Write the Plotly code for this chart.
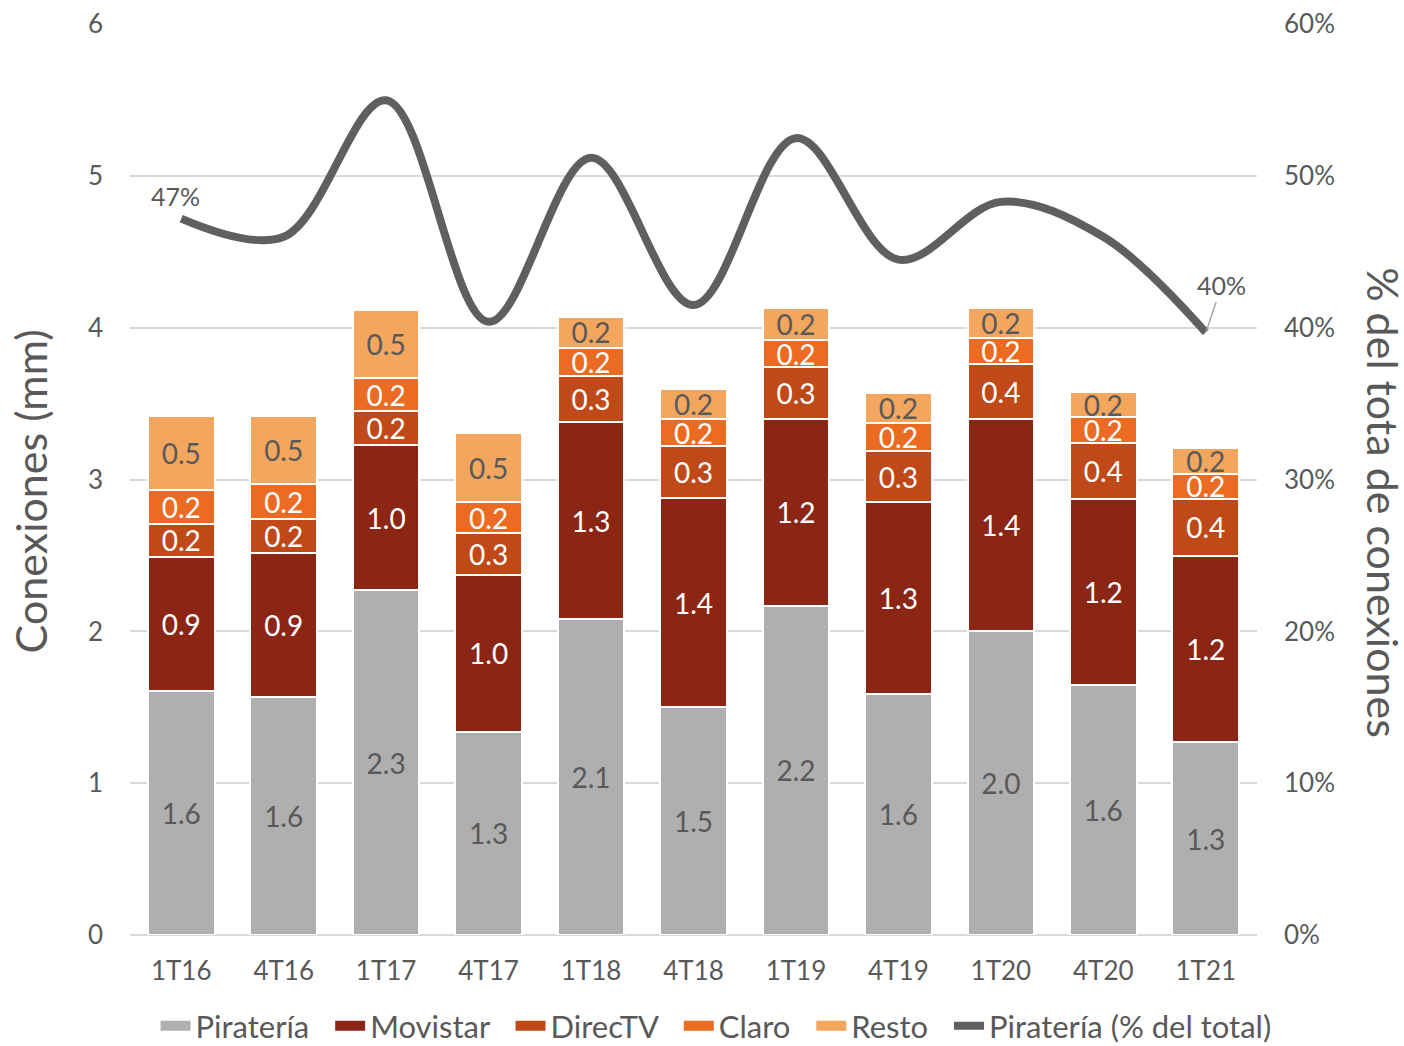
import plotly.graph_objects as go

categories = ["1T16", "4T16", "1T17", "4T17", "1T18", "4T18", "1T19", "4T19", "1T20", "4T20", "1T21"]
pirateria = [1.61, 1.57, 2.27, 1.34, 2.08, 1.50, 2.17, 1.59, 2.00, 1.65, 1.27]
movistar = [0.88, 0.95, 0.96, 1.03, 1.30, 1.38, 1.23, 1.26, 1.40, 1.22, 1.23]
directv = [0.22, 0.22, 0.22, 0.28, 0.30, 0.34, 0.34, 0.34, 0.36, 0.37, 0.37]
claro = [0.22, 0.23, 0.22, 0.20, 0.19, 0.18, 0.18, 0.18, 0.17, 0.17, 0.17]
resto = [0.49, 0.45, 0.45, 0.46, 0.20, 0.20, 0.21, 0.20, 0.20, 0.17, 0.17]
pct_pirateria = [0.472, 0.460, 0.550, 0.404, 0.512, 0.415, 0.525, 0.445, 0.483, 0.460, 0.397]

FONT = "Lato"
GRAY_TXT = "#595959"
NB = "\u00a0"

series = [
    ("Piratería", pirateria, "#AFAFAF", GRAY_TXT),
    ("Movistar", movistar, "#8C2614", "white"),
    ("DirecTV", directv, "#C0491A", "white"),
    ("Claro", claro, "#EB6B22", "white"),
    ("Resto", resto, "#F3A65E", GRAY_TXT),
]

fig = go.Figure()
for name, vals, color, tcolor in series:
    fig.add_trace(go.Bar(
        name=name, x=categories, y=vals, showlegend=False, legendgroup=name,
        marker=dict(color=color, line=dict(color="white", width=2)),
        text=[f"{v:.1f}" for v in vals],
        textposition="inside", insidetextanchor="middle", textangle=0,
        constraintext="none",
        textfont=dict(family=FONT, size=28, color=tcolor),
        yaxis="y",
    ))

# legend keys (wide rectangles like the original)
for name, vals, color, tcolor in series:
    fig.add_trace(go.Scatter(
        name=name + NB * 2, x=[None], y=[None], mode="lines", legendgroup=name,
        line=dict(color=color, width=15), showlegend=True, hoverinfo="skip",
    ))

fig.add_trace(go.Scatter(
    name="Piratería (% del total)", x=categories, y=pct_pirateria,
    mode="lines", line=dict(color="#5F5F5F", width=8, shape="spline", smoothing=1.0),
    yaxis="y2",
))

fig.update_layout(
    width=1404, height=1046,
    margin=dict(l=130, r=147, t=24, b=111, autoexpand=False),
    barmode="stack", bargap=0.35,
    plot_bgcolor="white", paper_bgcolor="white",
    font=dict(family=FONT, color=GRAY_TXT, size=26),
    uniformtext=dict(minsize=28, mode="show"),
    xaxis=dict(showgrid=False, showline=False, ticks="", tickfont=dict(size=26, color=GRAY_TXT),
               ticklabelstandoff=18, automargin=False),
    yaxis=dict(range=[0, 6.002], tickvals=[0, 1, 2, 3, 4, 5, 6], showgrid=True, gridcolor="#D9D9D9",
               gridwidth=1.5, zeroline=True, zerolinecolor="#D9D9D9", zerolinewidth=1.5,
               tickfont=dict(size=26, color=GRAY_TXT), ticklabelstandoff=26, automargin=False),
    yaxis2=dict(range=[0, 0.6002], tickvals=[0, 0.1, 0.2, 0.3, 0.4, 0.5, 0.6], tickformat=".0%",
                overlaying="y", side="right", automargin=False,
                showgrid=False, zeroline=False, tickfont=dict(size=26, color=GRAY_TXT),
                ticklabelstandoff=26),
    legend=dict(orientation="h", x=0.52, xanchor="center", y=-0.1, yanchor="middle",
                font=dict(size=31, color=GRAY_TXT), traceorder="normal", itemwidth=30,
                tracegroupgap=0),
    showlegend=True,
)

fig.add_annotation(x=categories[0], y=pct_pirateria[0], xref="x", yref="y2",
                   text=f"{pct_pirateria[0]*100:.0f}%", showarrow=False, yshift=23, xshift=-6,
                   font=dict(size=25, color=GRAY_TXT))
fig.add_annotation(x=categories[-1], y=pct_pirateria[-1], xref="x", yref="y2",
                   text=f"{pct_pirateria[-1]*100:.0f}%", showarrow=True, arrowhead=0,
                   arrowwidth=1.5, arrowcolor="#A6A6A6", ax=16, ay=-47,
                   font=dict(size=25, color=GRAY_TXT))
fig.add_annotation(xref="paper", yref="paper", x=-0.0887, y=0.487, xanchor="center", yanchor="middle",
                   text="Conexiones (mm)", textangle=-90, showarrow=False,
                   font=dict(size=43, color=GRAY_TXT))
fig.add_annotation(xref="paper", yref="paper", x=1.1128, y=0.475, xanchor="center", yanchor="middle",
                   text="% del tota de conexiones", textangle=90, showarrow=False,
                   font=dict(size=43, color=GRAY_TXT))

fig.write_html("out.html", config={"displayModeBar": False},
               post_script="document.body.style.margin='0';document.body.style.overflow='hidden';")
